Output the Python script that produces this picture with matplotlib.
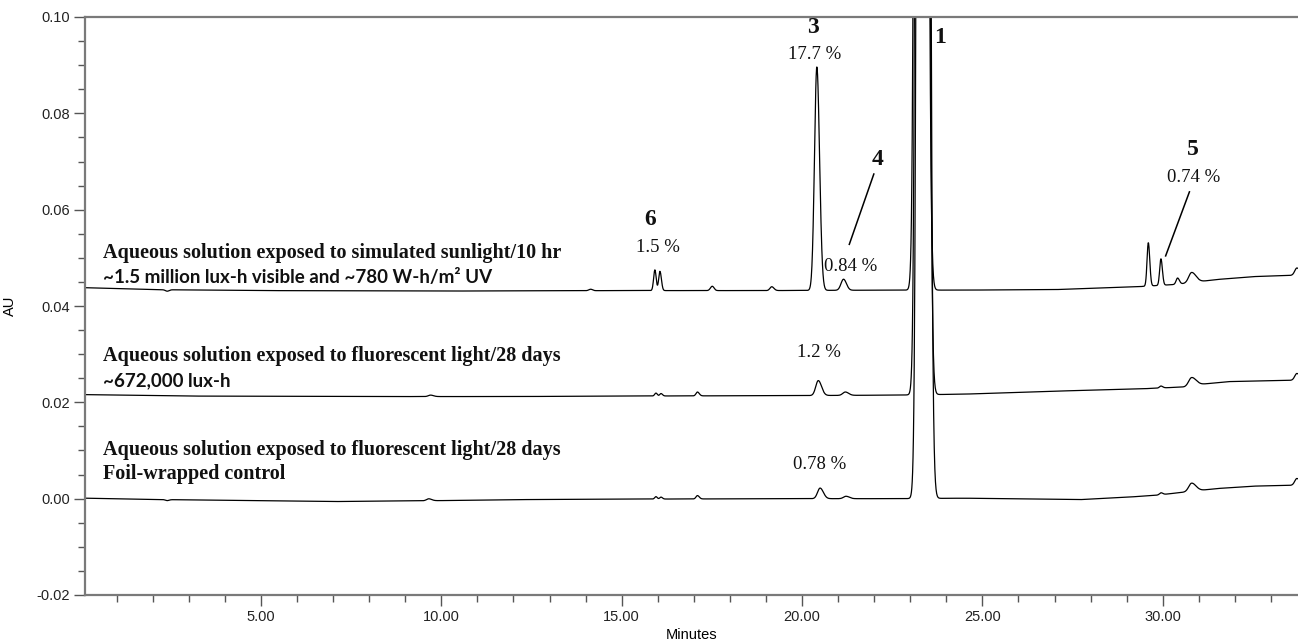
import numpy as np
import matplotlib
matplotlib.use("Agg")
import matplotlib.pyplot as plt
from matplotlib import font_manager
from matplotlib.ticker import MultipleLocator, FormatStrFormatter

# ---- peak tables: retention time (min), height (AU), left / right sigma (min)
sun_rt = [2.40, 14.14, 15.92, 16.06, 17.51, 19.16, 20.41, 21.15, 23.29, 29.60, 29.95, 30.41, 30.80, 33.72]
sun_h  = [-0.0003, 0.0003, 0.0043, 0.0040, 0.0009, 0.0008, 0.0464, 0.0023, 1.5, 0.0090, 0.0055, 0.0013, 0.0021, 0.0015]
sun_sl = [0.05, 0.05, 0.035, 0.035, 0.05, 0.05, 0.065, 0.07, 0.085, 0.035, 0.035, 0.04, 0.08, 0.06]
sun_sr = [0.05, 0.05, 0.035, 0.040, 0.05, 0.06, 0.075, 0.08, 0.100, 0.040, 0.040, 0.05, 0.12, 0.08]
sun_base_t = [0.12, 2.0, 5.0, 10.0, 15.0, 19.0, 22.5, 24.5, 27.0, 29.3, 30.4, 31.5, 32.5, 33.75]
sun_base_y = [0.0438, 0.0434, 0.0432, 0.0431, 0.0432, 0.0432, 0.0433, 0.0433, 0.0434, 0.0440, 0.0445, 0.0455, 0.0461, 0.0464]

fl_rt = [9.70, 15.95, 16.09, 17.10, 20.45, 21.20, 23.32, 29.95, 30.80, 33.72]
fl_h  = [0.0003, 0.0006, 0.0005, 0.0008, 0.0031, 0.0007, 1.5, 0.0004, 0.0017, 0.0014]
fl_sl = [0.06, 0.035, 0.035, 0.04, 0.07, 0.07, 0.085, 0.04, 0.08, 0.06]
fl_sr = [0.08, 0.035, 0.040, 0.05, 0.09, 0.09, 0.100, 0.05, 0.12, 0.08]
fl_base_t = [0.12, 3.0, 8.0, 12.0, 15.0, 20.0, 22.6, 24.5, 26.9, 29.4, 30.6, 31.0, 31.8, 33.75]
fl_base_y = [0.0216, 0.0213, 0.0212, 0.0212, 0.0213, 0.0214, 0.0215, 0.0217, 0.0223, 0.0228, 0.0232, 0.0237, 0.0243, 0.0246]

ctl_rt = [2.40, 9.65, 15.95, 16.09, 17.10, 20.50, 21.22, 23.35, 29.95, 30.80, 33.72]
ctl_h  = [-0.0002, 0.0004, 0.0005, 0.0004, 0.0007, 0.0022, 0.0005, 1.5, 0.0004, 0.0017, 0.0014]
ctl_sl = [0.05, 0.06, 0.035, 0.035, 0.04, 0.07, 0.07, 0.085, 0.04, 0.08, 0.06]
ctl_sr = [0.05, 0.08, 0.035, 0.040, 0.05, 0.09, 0.09, 0.100, 0.05, 0.12, 0.08]
ctl_base_t = [0.12, 2.4, 5.0, 7.0, 10.0, 12.0, 15.0, 20.0, 22.6, 24.5, 27.7, 29.0, 29.8, 31.5, 32.5, 33.75]
ctl_base_y = [0.0001, -0.0002, -0.0004, -0.0006, -0.0004, -0.0002, -0.0001, 0.0, 0.0, 0.0001, -0.0002, 0.0003, 0.0007, 0.0021, 0.0026, 0.0028]

# ---- sample descriptions (bold serif line, second line)
titles = ["Aqueous solution exposed to simulated sunlight/10 hr",
          "Aqueous solution exposed to fluorescent light/28 days",
          "Aqueous solution exposed to fluorescent light/28 days"]
subtitles = ["~1.5 million lux-h visible and ~780 W-h/m\u00b2 UV",
             "~672,000 lux-h",
             "Foil-wrapped control"]
title_y = [0.0511, 0.0296, 0.0102]
subtitle_y = [0.0459, 0.0244, 0.0052]
subtitle_serif = [False, False, True]

# ---- peak numbers and area percentages
peak_ids = ["3", "1", "4", "6", "5"]
peak_id_xy = [(20.30, 0.0979), (23.83, 0.0958), (22.10, 0.0705), (15.80, 0.0580), (30.84, 0.0725)]
pct_text = ["17.7 %", "0.84 %", "1.5 %", "0.74 %", "1.2 %", "0.78 %"]
pct_xy = [(20.36, 0.0923), (21.35, 0.0482), (16.00, 0.0522), (30.87, 0.0667), (20.47, 0.0304), (20.50, 0.0071)]
leaders = [((21.99, 0.0674), (21.31, 0.0528)), ((30.74, 0.0637), (30.08, 0.0504))]

x_lim = (0.12, 33.75)
y_lim = (-0.02, 0.10)


def trace(t, rts, hs, sls, srs, bt, by):
    y = np.interp(t, bt, by)
    for rt, h, sl, sr in zip(rts, hs, sls, srs):
        s = np.where(t < rt, sl, sr)
        y = y + h * np.exp(-0.5 * ((t - rt) / s) ** 2)
    return y


names = {f.name for f in font_manager.fontManager.ttflist}
tick_font = "Liberation Sans Narrow" if "Liberation Sans Narrow" in names else "Liberation Sans"
serif = "Liberation Serif"
sans_b = "Lato" if "Lato" in names else "DejaVu Sans"

t = np.linspace(x_lim[0], x_lim[1], 6000)
sun = trace(t, sun_rt, sun_h, sun_sl, sun_sr, sun_base_t, sun_base_y)
fl = trace(t, fl_rt, fl_h, fl_sl, fl_sr, fl_base_t, fl_base_y)
ctl = trace(t, ctl_rt, ctl_h, ctl_sl, ctl_sr, ctl_base_t, ctl_base_y)

fig = plt.figure(figsize=(12.98, 6.43), dpi=100)
ax = fig.add_axes([85 / 1298, 1 - 595 / 643, 1 - 85 / 1298, (595 - 17) / 643])

for y in (sun, fl, ctl):
    ax.plot(t, y, color="black", lw=0.9)

ax.set_xlim(*x_lim)
ax.set_ylim(*y_lim)

ax.xaxis.set_major_locator(MultipleLocator(5))
ax.xaxis.set_minor_locator(MultipleLocator(1))
ax.yaxis.set_major_locator(MultipleLocator(0.02))
ax.yaxis.set_minor_locator(MultipleLocator(0.005))
ax.xaxis.set_major_formatter(FormatStrFormatter("%.2f"))
ax.yaxis.set_major_formatter(FormatStrFormatter("%.2f"))

for side in ("left", "bottom", "top"):
    ax.spines[side].set_color("#7a7a7a")
    ax.spines[side].set_linewidth(1.6)
ax.spines["right"].set_visible(False)

ax.tick_params(which="major", length=8, width=1, color="#555555", labelsize=10.5, pad=3)
ax.tick_params(which="minor", length=5, width=1, color="#555555")
for lab in ax.get_xticklabels() + ax.get_yticklabels():
    lab.set_fontfamily(tick_font)
    lab.set_color("#222222")

ax.set_xlabel("Minutes", fontfamily=tick_font, fontsize=10.5, labelpad=3)
ax.set_ylabel("AU", fontfamily=tick_font, fontsize=10.5, labelpad=14)

x_txt = 0.62
for ttl, sub, ty, sy, ser in zip(titles, subtitles, title_y, subtitle_y, subtitle_serif):
    ax.text(x_txt, ty, ttl, fontfamily=serif, fontweight="bold", fontsize=14.5,
            ha="left", va="center", color="#111111")
    ax.text(x_txt, sy, sub, fontfamily=serif if ser else sans_b, fontweight="bold",
            fontsize=14.5 if ser else 13.5, ha="left", va="center", color="#111111")

for lab, (px, py) in zip(peak_ids, peak_id_xy):
    ax.text(px, py, lab, fontfamily=serif, fontweight="bold", fontsize=17,
            ha="center", va="center", color="#111111")
for lab, (px, py) in zip(pct_text, pct_xy):
    ax.text(px, py, lab, fontfamily=serif, fontsize=13.5, ha="center", va="center",
            color="#111111")
for (x0, y0), (x1, y1) in leaders:
    ax.plot([x0, x1], [y0, y1], color="black", lw=1.1)

fig.savefig("out.png", dpi=100)
